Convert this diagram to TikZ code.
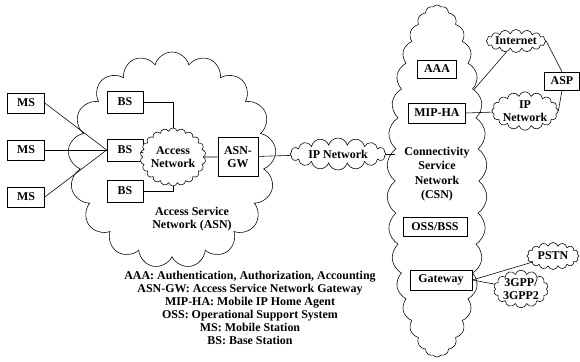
\documentclass[tikz,border=0pt]{standalone}
\usepackage{fontspec}
\setmainfont{Liberation Serif}
\usetikzlibrary{shapes.symbols}

\begin{document}
\begin{tikzpicture}[x=0.025cm, y=-0.025cm,
    every node/.style={font=\fontsize{8.5}{9.3}\selectfont\bfseries, align=center},
    box/.style={draw, fill=white, minimum height=0.5cm, inner sep=2pt},
    net/.style={cloud, draw, cloud ignores aspect, inner sep=0pt, cloud puffs=#1},
    net/.default=18]
    \useasboundingbox (0,0) rectangle (580,362);
    % the two large networks
    \node [net=17, minimum width=5.2cm, minimum height=5.4cm] (asn) at (172,160) {};
    \node [net=34, cloud puff arc=110, minimum width=2.5cm, minimum height=8.8cm] (csn) at (437,181) {};
    \node at (192,219) {Access Service\\Network (ASN)};
    \node [font=\fontsize{8.5}{10.2}\selectfont\bfseries] at (437,174) {Connectivity\\Service\\Network\\(CSN)};

    % mobile and base stations
    \node [box, minimum width=0.925cm] (ms1) at (26,103) {MS};
    \node [box, minimum width=0.925cm] (ms2) at (26,150) {MS};
    \node [box, minimum width=0.925cm] (ms3) at (26,197) {MS};
    \node [box, minimum width=0.9cm, minimum height=0.55cm] (bs1) at (125,102) {BS};
    \node [box, minimum width=0.9cm, minimum height=0.55cm] (bs2) at (125,150) {BS};
    \node [box, minimum width=0.9cm, minimum height=0.55cm] (bs3) at (125,191) {BS};
    \node [net=22, fill=white, minimum width=1.35cm, minimum height=1.45cm] (an) at (173,157) {Access\\Network};
    \node [box, minimum width=1cm, minimum height=0.975cm] (asngw) at (238,157) {ASN-\\GW};
    \node [net=16, minimum width=2.4cm, minimum height=0.8cm] (ipnet) at (338,154) {IP Network};

    % inside the CSN
    \node [box, minimum width=0.975cm, minimum height=0.45cm] (aaa) at (437,69) {AAA};
    \node [box, minimum width=1.425cm] (mipha) at (437,113) {MIP-HA};
    \node [box, minimum width=1.6cm, minimum height=0.475cm] (oss) at (435,227) {OSS/BSS};
    \node [box, minimum width=1.55cm] (gw) at (441,280) {Gateway};

    % outside networks
    \node [net=16, minimum width=1.3cm, minimum height=0.575cm] (inet) at (516,41) {Internet};
    \node [box, minimum width=0.875cm, minimum height=0.45cm] (asp) at (562,81) {ASP};
    \node [net=16, minimum width=1.4cm, minimum height=0.7cm] (ipnet2) at (525,111) {IP\\Network};
    \node [net=16, minimum width=1.3cm, minimum height=0.675cm] (pstn) at (553,256) {PSTN};
    \node [net=14, minimum width=1.075cm, minimum height=0.875cm] (gpp) at (521,289) {3GPP/\\3GPP2};

    \draw (ms1.east) -- (bs2.west);
    \draw (ms2.east) -- (bs2.west);
    \draw (ms3.east) -- (bs2.west);
    \draw (bs1.east) -| (an);
    \draw (bs3.east) -| (an);
    \draw (bs2) -- (an);
    \draw (an) -- (asngw);
    \draw (asngw) -- (ipnet);
    \draw (ipnet.east) -- (csn.west |- ipnet.east);
    \draw (inet) -- (csn.68);
    \draw (inet.east) -- (asp.north);
    \draw (asp.south) -- (ipnet2.east);
    \draw (mipha.east) -- (ipnet2);
    \draw (gw.east) -- (pstn);
    \draw (gw.east) -- (gpp);

    \node (legend) at (250,308) {AAA: Authentication, Authorization, Accounting\\
        ASN-GW: Access Service Network Gateway\\
        MIP-HA: Mobile IP Home Agent\\
        OSS: Operational Support System\\
        MS: Mobile Station\\
        BS: Base Station};
\end{tikzpicture}
\end{document}
